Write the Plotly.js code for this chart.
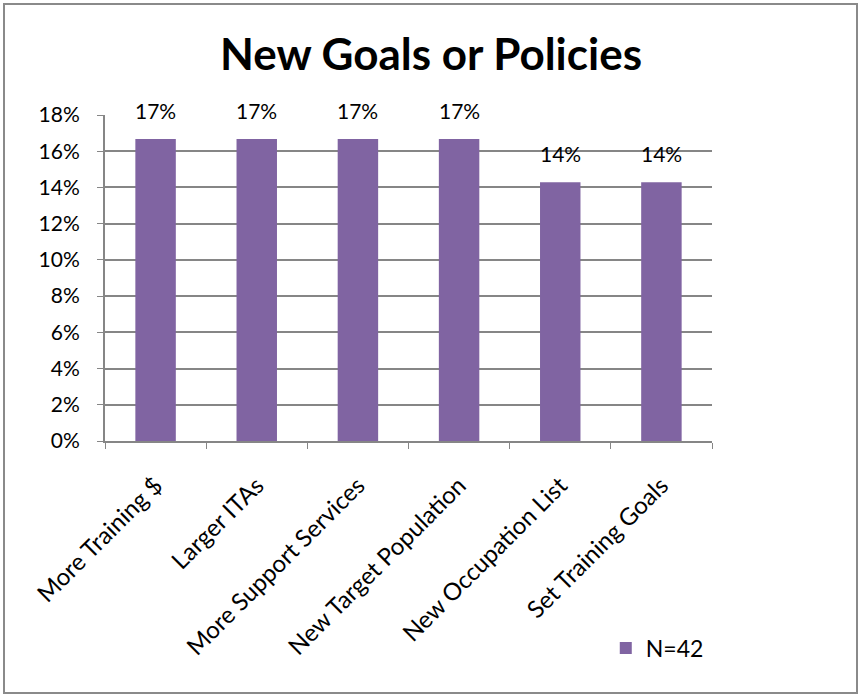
<!DOCTYPE html>
<html><head><meta charset="utf-8">
<script src="https://cdn.plot.ly/plotly-3.0.1.min.js"></script>
<style>
html,body{margin:0;padding:0;background:#fff;}
#frame{position:absolute;left:3px;top:3px;width:851px;height:687px;border:2px solid #8a8a8a;}
#chart{position:absolute;left:0;top:0;width:862px;height:696px;}
</style></head>
<body>
<div id="chart"></div>
<div id="frame"></div>
<script>
const categories = ["More Training $", "Larger ITAs", "More Support Services", "New Target Population", "New Occupation List", "Set Training Goals"];
const values = [0.1667, 0.1667, 0.1667, 0.1667, 0.1429, 0.1429];
const seriesName = "N=42";
const labels = values.map(v => Math.round(v * 100) + "%");

const font = "Lato, 'Open Sans', sans-serif";
const trace = {
  type: "bar", x: categories, y: values, name: seriesName,
  marker: {color: "#8064A2"}, showlegend: true, hoverinfo: "none"
};
const annotations = categories.map((c, i) => ({
  x: c, y: values[i], text: labels[i], showarrow: false,
  yanchor: "bottom", yshift: 14, font: {size: 21, color: "#000", family: font}
}));
const layout = {
  width: 862, height: 696,
  margin: {l: 105, r: 150, t: 115, b: 255},
  paper_bgcolor: "#fff", plot_bgcolor: "#fff",
  title: {text: "<b>New Goals or Policies</b>", font: {size: 44, color: "#000", family: font}, x: 0.5, xanchor: "center", y: 0.921, yanchor: "middle"},
  bargap: 0.6,
  xaxis: {
    type: "category", tickangle: -45, tickson: "boundaries", ticks: "outside", ticklen: 6,
    tickcolor: "#868686", linecolor: "#868686", linewidth: 2, showline: true, showgrid: false,
    ticklabelstandoff: 19,
    tickfont: {size: 24, color: "#000", family: font}, automargin: false
  },
  yaxis: {
    range: [0, 0.18], dtick: 0.02, tickformat: ".0%", ticks: "outside", ticklen: 6,
    tickcolor: "#868686", linecolor: "#868686", linewidth: 2, showline: true,
    gridcolor: "#868686", gridwidth: 2, zeroline: false, ticklabelstandoff: 13,
    tickfont: {size: 21, color: "#000", family: font}, automargin: false
  },
  legend: {x: 0.825, y: -0.635, xanchor: "left", yanchor: "middle", font: {size: 23, color: "#000", family: font}, bgcolor: "rgba(0,0,0,0)"},
  annotations: annotations
};
Plotly.newPlot("chart", [trace], layout, {staticPlot: true, displayModeBar: false});
</script>
</body></html>
